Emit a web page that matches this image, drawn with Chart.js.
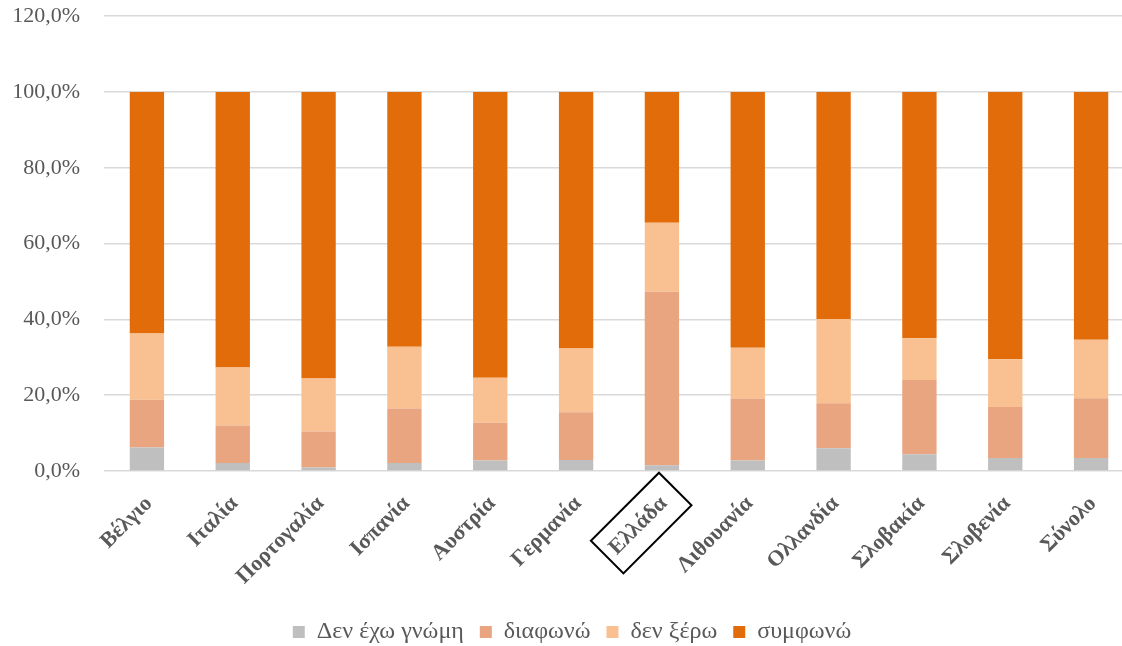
<!DOCTYPE html>
<html>
<head>
<meta charset="utf-8">
<script src="https://cdn.jsdelivr.net/npm/chart.js@4"></script>
<style>
  html, body { margin: 0; padding: 0; background: #fff; overflow: hidden; width: 1122px; height: 646px; }
  #wrap { position: absolute; left: 0; top: -21px; width: 1134px; height: 675px; }
</style>
</head>
<body>
<div id="wrap"><canvas id="myChart"></canvas></div>
<script>
// categories and series (percent)
var countries = ['Βέλγιο', 'Ιταλία', 'Πορτογαλία', 'Ισπανία', 'Αυστρία', 'Γερμανία',
                 'Ελλάδα', 'Λιθουανία', 'Ολλανδία', 'Σλοβακία', 'Σλοβενία', 'Σύνολο'];
var noOpinion = [6.2, 2.1, 0.9, 2.1, 2.8, 2.9, 1.5, 2.8, 6.0, 4.4, 3.4, 3.4];
var disagree  = [12.6, 9.9, 9.5, 14.4, 9.9, 12.6, 45.8, 16.3, 11.9, 19.6, 13.5, 15.8];
var dontKnow  = [17.5, 15.3, 14.0, 16.3, 11.9, 16.8, 18.2, 13.4, 22.2, 11.0, 12.6, 15.4];
var agree     = [63.7, 72.7, 75.6, 67.2, 75.4, 67.7, 34.5, 67.5, 59.9, 65.0, 70.5, 65.4];
var seriesNames = ['Δεν έχω γνώμη', 'διαφωνώ', 'δεν ξέρω', 'συμφωνώ'];
var highlighted = 'Ελλάδα';

var grey = '#595959';
var serif = "'Liberation Serif', 'Times New Roman', serif";

// box around the highlighted country label
var boxPlugin = {
    id: 'labelBox',
    afterDraw: function (chart) {
        var xs = chart.scales.x;
        var c = chart.ctx;
        xs.getLabelItems().forEach(function (it) {
            if (it.label !== highlighted) return;
            var o = it.options;
            c.save();
            c.font = it.font.string;
            var w = c.measureText(it.label).width;
            c.translate(o.translation[0], o.translation[1]);
            c.rotate(o.rotation);
            var cx = -w / 2 + 4, cy = it.textOffset;
            var bw = w + 24, bh = 46;
            c.strokeStyle = '#000';
            c.lineWidth = 2;
            c.strokeRect(cx - bw / 2, cy - bh / 2, bw, bh);
            c.restore();
        });
    }
};

var ctx = document.getElementById('myChart');
var myChart = new Chart(ctx, {
    type: 'bar',
    data: {
        labels: countries,
        datasets: [
            { label: seriesNames[0], data: noOpinion, backgroundColor: '#BFBFBF' },
            { label: seriesNames[1], data: disagree,  backgroundColor: '#E9A480' },
            { label: seriesNames[2], data: dontKnow,  backgroundColor: '#F9C191' },
            { label: seriesNames[3], data: agree,     backgroundColor: '#E36C0A' }
        ]
    },
    plugins: [boxPlugin],
    options: {
        responsive: true,
        maintainAspectRatio: false,
        animation: false,
        layout: { padding: { left: 10, right: 0, top: 0, bottom: 0 } },
        datasets: { bar: { barPercentage: 0.4, categoryPercentage: 1, borderWidth: 0 } },
        scales: {
            x: {
                stacked: true,
                grid: { display: false, drawTicks: false },
                border: { display: false },
                afterFit: function (scale) { scale.height = 133; },
                ticks: {
                    color: grey,
                    minRotation: 45,
                    maxRotation: 45,
                    autoSkip: false,
                    padding: 20,
                    labelOffset: 2,
                    font: { family: serif, size: 22, weight: 'bold' }
                }
            },
            y: {
                stacked: true,
                min: 0,
                max: 120,
                border: { display: false },
                grid: { color: '#D9D9D9', lineWidth: 1.5, drawTicks: false },
                afterFit: function (scale) { scale.width = 94; },
                ticks: {
                    stepSize: 20,
                    padding: 24,
                    color: grey,
                    font: { family: serif, size: 22 },
                    callback: function (v) { return v.toFixed(1).replace('.', ',') + '%'; }
                }
            }
        },
        plugins: {
            tooltip: { enabled: false },
            legend: {
                position: 'bottom',
                labels: {
                    color: grey,
                    boxWidth: 12,
                    boxHeight: 12,
                    padding: 16,
                    font: { family: serif, size: 24 }
                }
            }
        }
    }
});
</script>
</body>
</html>
